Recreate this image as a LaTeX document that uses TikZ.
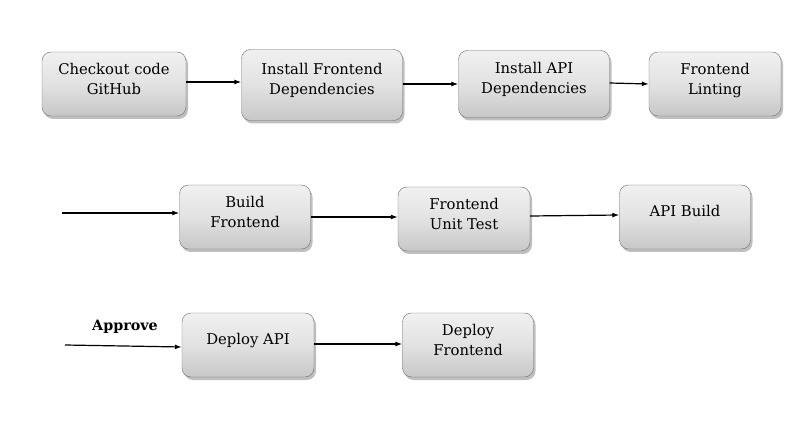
\documentclass[tikz,border=0pt]{standalone}
\usepackage{fontspec}
\setmainfont{DejaVu Serif}
\usetikzlibrary{arrows.meta,shadows}
\definecolor{BoxEdge}{RGB}{110,110,110}
\definecolor{BoxFill}{RGB}{226,226,226}

\begin{document}
\begin{tikzpicture}[x=1pt,y=-1pt,
    stage/.style={draw=BoxEdge,rounded corners=9pt,top color=BoxFill!50,bottom color=BoxFill!88!black,
      middle color=BoxFill,drop shadow={shadow xshift=2pt,shadow yshift=-3pt,opacity=.5},
      minimum height=64pt,align=center,font=\fontsize{14.8}{19.5}\selectfont},
    flow/.style={-{Latex[length=7pt,width=5pt]},line width=1.2pt}]
  \useasboundingbox (0,0) rectangle (803,430);
  % first row
  \node[stage,minimum width=144pt] (checkout) at (114,84) {Checkout code\\GitHub\\[-9pt]};
  \node[stage,minimum width=161pt,minimum height=71pt] (instfe) at (322,85) {Install Frontend\\Dependencies\\[-7pt]};
  \node[stage,minimum width=151pt,minimum height=67pt] (instapi) at (534,84) {Install API\\Dependencies\\[-7pt]};
  \node[stage,minimum width=132pt] (lint) at (715,84) {Frontend\\Linting\\[-9pt]};
  \draw[flow] (checkout.east|-0,82) -- (instfe.west|-0,82);
  \draw[flow] (instfe.east|-0,84) -- (instapi.west|-0,84);
  \draw[flow] (instapi.east|-0,83) -- (lint.west|-0,84);
  % second row
  \node[stage,minimum width=131pt] (buildfe) at (245,217) {Build\\Frontend\\[-9pt]};
  \node[stage,minimum width=132pt] (unittest) at (464,219) {Frontend\\Unit Test\\[-9pt]};
  \node[stage,minimum width=131pt] (apibuild) at (685,217) {API Build\\[-7pt]};
  \coordinate (in2) at (62,213);
  \draw[flow] (in2) -- (buildfe.west|-in2);
  \draw[flow] (buildfe.east|-0,217) -- (unittest.west|-0,217);
  \draw[flow] (unittest.east|-0,216) -- (apibuild.west|-0,215);
  % third row
  \node[stage,minimum width=132pt] (deployapi) at (248,345) {Deploy API\\[-7pt]};
  \node[stage,minimum width=131pt] (deployfe) at (468,345) {Deploy\\Frontend\\[-9pt]};
  \coordinate (in3) at (65,345);
  \node[font=\fontsize{14.3}{17}\selectfont\bfseries] (approve) at (125,327) {Approve};
  \draw[flow] (in3) -- (deployapi.west|-0,347);
  \draw[flow] (deployapi.east|-0,344) -- (deployfe.west|-0,344);
\end{tikzpicture}
\end{document}
